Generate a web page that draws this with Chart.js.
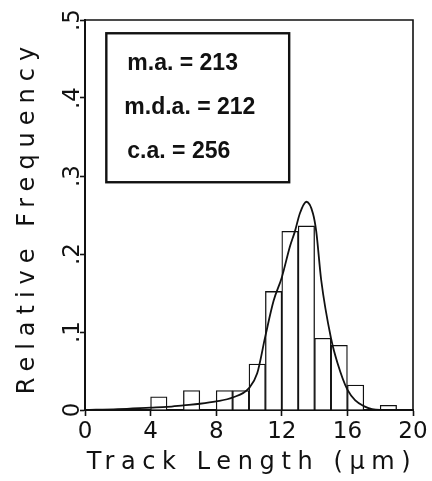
<!DOCTYPE html>
<html>
<head>
<meta charset="utf-8">
<script src="https://cdn.jsdelivr.net/npm/chart.js@4.4.1/dist/chart.umd.min.js"></script>
<style>
  html, body { margin: 0; padding: 0; background: #fff; }
  #wrap { width: 432px; height: 481px; }
</style>
</head>
<body>
<div id="wrap"><canvas id="chart" width="432" height="481"></canvas></div>
<script>
// 1 µm bins, centred on the half-micron
const binCenters = [0.5, 1.5, 2.5, 3.5, 4.5, 5.5, 6.5, 7.5, 8.5, 9.5,
  10.5, 11.5, 12.5, 13.5, 14.5, 15.5, 16.5, 17.5, 18.5, 19.5];
const binFreq = [0, 0, 0, 0, 0.017, 0, 0.025, 0, 0.025, 0.025,
  0.059, 0.152, 0.229, 0.236, 0.092, 0.083, 0.032, 0, 0.006, 0];

// fitted distribution curve
const fitX = [0, 2, 4, 5, 6, 7, 8, 9, 10, 10.5, 11, 11.5, 12, 12.5, 12.8, 13.1,
  13.5, 13.9, 14.1, 14.4, 15, 15.4, 16, 16.5, 17, 17.5, 18, 20];
const fitY = [0, 0.001, 0.003, 0.004, 0.006, 0.008, 0.011, 0.016, 0.028, 0.047, 0.095, 0.14,
  0.17, 0.21, 0.229, 0.252, 0.267, 0.252, 0.229, 0.167, 0.092, 0.06, 0.026, 0.012, 0.005, 0.001, 0, 0];

const xTickStep = 4;
const yTicks = [0, 0.1, 0.2, 0.3, 0.4, 0.5];
const yTickLabels = ["0", ".1", ".2", ".3", ".4", ".5"];

const xTitle = "Track Length (\u00b5m)";
const yTitle = "Relative Frequency";
const statLines = ["m.a. = 213", "m.d.a. = 212", "c.a. = 256"];

const INK = "#111";

const frame = {
  id: "frame",
  afterDraw(chart) {
    const { ctx, chartArea: area, scales } = chart;
    ctx.save();
    ctx.strokeStyle = INK;

    // top and right edges of the box
    ctx.lineWidth = 1.6;
    ctx.beginPath();
    ctx.moveTo(area.left, area.top);
    ctx.lineTo(area.right, area.top);
    ctx.lineTo(area.right, area.bottom);
    ctx.stroke();

    // rotated y tick labels
    ctx.fillStyle = INK;
    ctx.font = "23px 'DejaVu Sans'";
    ctx.textAlign = "center";
    ctx.textBaseline = "alphabetic";
    yTicks.forEach((v, i) => {
      const py = scales.y.getPixelForValue(v);
      ctx.save();
      ctx.translate(79, py);
      ctx.rotate(-Math.PI / 2);
      ctx.fillText(yTickLabels[i], 0, 0);
      ctx.restore();
    });

    // axis titles, widely spaced
    ctx.font = "24px 'DejaVu Sans'";
    ctx.letterSpacing = "6.6px";
    ctx.fillText(xTitle, (area.left + area.right) / 2 + 3, 469);
    ctx.letterSpacing = "7px";
    ctx.save();
    ctx.translate(34, (area.top + area.bottom) / 2 + 2);
    ctx.rotate(-Math.PI / 2);
    ctx.fillText(yTitle, 0, 0);
    ctx.restore();
    ctx.letterSpacing = "0px";

    // stats box
    const bx0 = scales.x.getPixelForValue(1.3);
    const bx1 = scales.x.getPixelForValue(12.45);
    const by0 = scales.y.getPixelForValue(0.483);
    const by1 = scales.y.getPixelForValue(0.292);
    ctx.lineWidth = 2.4;
    ctx.strokeRect(bx0, by0, bx1 - bx0, by1 - by0);
    ctx.font = "bold 23px 'Liberation Sans'";
    ctx.textAlign = "left";
    ctx.textBaseline = "middle";
    const rows = [0.444, 0.387, 0.331];
    statLines.forEach((t, i) => {
      ctx.fillText(t, bx0 + (i === 1 ? 18 : 21), scales.y.getPixelForValue(rows[i]));
    });
    ctx.restore();
  }
};

new Chart(document.getElementById("chart"), {
  type: "bar",
  data: {
    datasets: [
      {
        type: "line",
        data: fitX.map((x, i) => ({ x, y: fitY[i] })),
        borderColor: INK,
        borderWidth: 1.8,
        pointRadius: 0,
        cubicInterpolationMode: "monotone",
        fill: false
      },
      {
        type: "bar",
        data: binCenters.map((x, i) => ({ x, y: binFreq[i] })),
        backgroundColor: "#fff",
        borderColor: INK,
        borderWidth: 1.3,
        barPercentage: 1,
        categoryPercentage: 1,
        grouped: false
      }
    ]
  },
  options: {
    responsive: false,
    animation: false,
    layout: { padding: { top: 20, right: 19, left: 0, bottom: 0 } },
    plugins: { legend: { display: false }, tooltip: { enabled: false } },
    scales: {
      x: {
        type: "linear",
        offset: false,
        min: 0,
        max: 20,
        afterFit: (scale) => { scale.height = 71; },
        grid: { offset: false, drawOnChartArea: false, tickLength: 6, tickWidth: 1.6, color: INK },
        border: { color: INK, width: 2 },
        ticks: {
          stepSize: xTickStep,
          color: INK,
          padding: 2,
          maxRotation: 0,
          font: { family: "'DejaVu Sans'", size: 23 }
        }
      },
      y: {
        min: 0,
        max: 0.5,
        afterFit: (scale) => { scale.width = 85; },
        grid: { drawOnChartArea: false, tickLength: 5, tickWidth: 1.6, color: INK },
        border: { color: INK, width: 2 },
        ticks: { display: false, stepSize: 0.1 }
      }
    }
  },
  plugins: [frame]
});
</script>
</body>
</html>
